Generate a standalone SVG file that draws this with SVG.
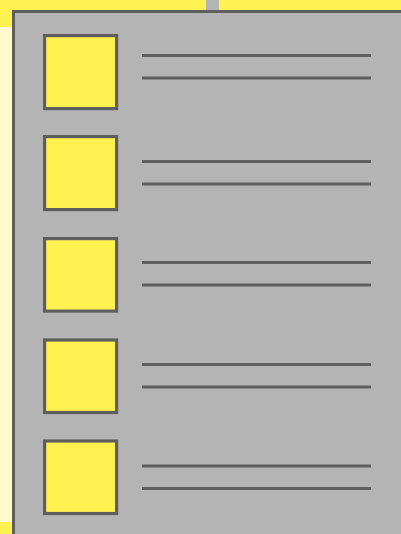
<svg xmlns="http://www.w3.org/2000/svg" width="401" height="534" viewBox="0 0 401 534">
<style>
.box{fill:#FFF250;stroke:#5E5E5E;stroke-width:3.2}
.ln{stroke:#5E5E5E;stroke-width:3.2;fill:none}
</style>
<rect x="0" y="0" width="401" height="534" fill="#FFF250"/>
<rect x="0" y="27" width="12" height="495" fill="#FFFACC"/>
<rect x="206" y="0" width="13" height="12" fill="#B4B4B4"/>
<g id="panel">
<rect x="13.5" y="11.5" width="400" height="540" fill="#B4B4B4" stroke="#5E5E5E" stroke-width="3"/>
</g>
<g id="item1">
<rect class="box" x="44.6" y="35.6" width="72" height="73"/>
</g>
<g id="item2">
<rect class="box" x="44.6" y="136.6" width="72" height="73"/>
</g>
<g id="item3">
<rect class="box" x="44.6" y="238.6" width="72" height="72.5"/>
</g>
<g id="item4">
<rect class="box" x="44.6" y="340" width="72" height="72.5"/>
</g>
<g id="item5">
<rect class="box" x="44.6" y="441" width="72" height="72.5"/>
</g>
<g id="connectors">
<line class="ln" x1="142" y1="55.5" x2="371" y2="55.5"/>
<line class="ln" x1="142" y1="78" x2="371" y2="78"/>
<line class="ln" x1="142" y1="161.5" x2="371" y2="161.5"/>
<line class="ln" x1="142" y1="184" x2="371" y2="184"/>
<line class="ln" x1="142" y1="262.5" x2="371" y2="262.5"/>
<line class="ln" x1="142" y1="285" x2="371" y2="285"/>
<line class="ln" x1="142" y1="364.5" x2="371" y2="364.5"/>
<line class="ln" x1="142" y1="387" x2="371" y2="387"/>
<line class="ln" x1="142" y1="466" x2="371" y2="466"/>
<line class="ln" x1="142" y1="488.5" x2="371" y2="488.5"/>
</g>
</svg>
